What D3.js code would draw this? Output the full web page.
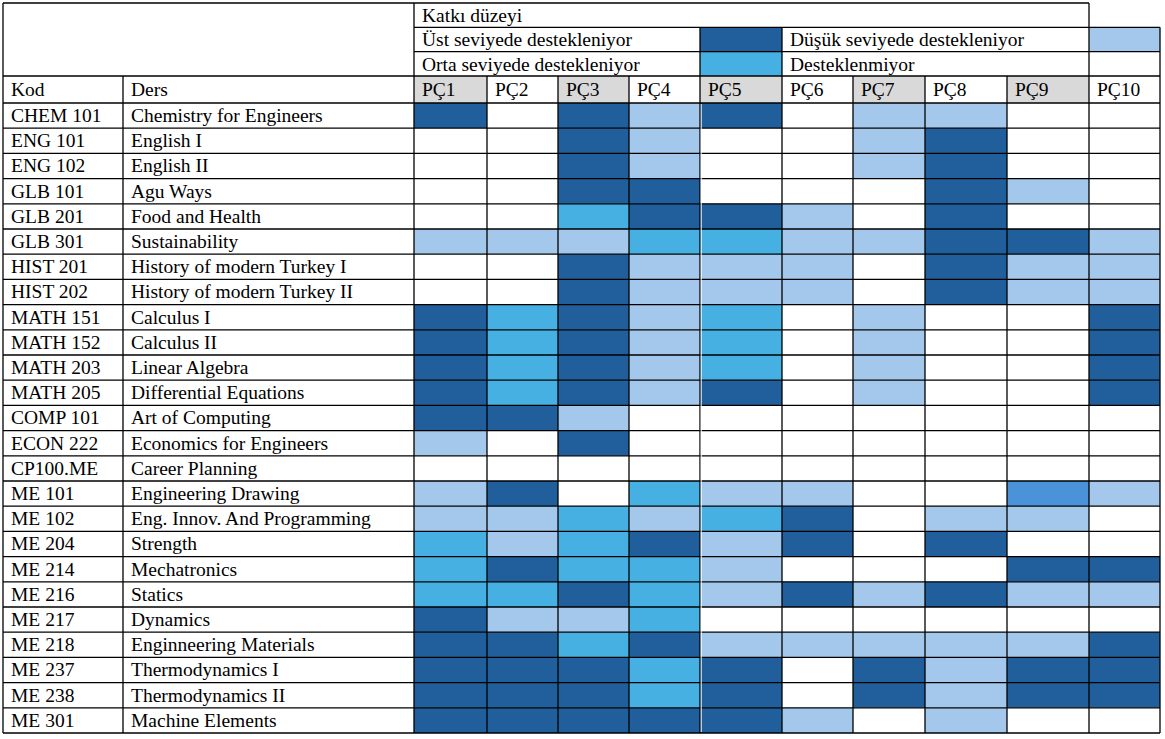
<!DOCTYPE html>
<html>
<head>
<meta charset="utf-8">
<script src="https://cdn.jsdelivr.net/npm/d3@7"></script>
<style>
  body { margin: 0; background: #fff; }
</style>
</head>
<body>
<svg id="canvas" width="1165" height="739"></svg>
<script>
let codes = ["CHEM 101", "ENG 101", "ENG 102", "GLB 101", "GLB 201", "GLB 301", "HIST 201", "HIST 202",
  "MATH 151", "MATH 152", "MATH 203", "MATH 205", "COMP 101", "ECON 222", "CP100.ME", "ME 101",
  "ME 102", "ME 204", "ME 214", "ME 216", "ME 217", "ME 218", "ME 237", "ME 238", "ME 301"];
let courses = ["Chemistry for Engineers", "English I", "English II", "Agu Ways", "Food and Health",
  "Sustainability", "History of modern Turkey I", "History of modern Turkey II", "Calculus I",
  "Calculus II", "Linear Algebra", "Differential Equations", "Art of Computing",
  "Economics for Engineers", "Career Planning", "Engineering Drawing", "Eng. Innov. And Programming",
  "Strength", "Mechatronics", "Statics", "Dynamics", "Enginneering Materials", "Thermodynamics I",
  "Thermodynamics II", "Machine Elements"];
let outcomes = ["PÇ1", "PÇ2", "PÇ3", "PÇ4", "PÇ5", "PÇ6", "PÇ7", "PÇ8", "PÇ9", "PÇ10"];
// 3 = üst, 2 = orta, 1 = düşük, 0 = desteklenmiyor, 4 = the odd blue cell (ME 101 / PÇ9)
let levels = [
  [3,0,3,1,3,0,1,1,0,0],
  [0,0,3,1,0,0,1,3,0,0],
  [0,0,3,1,0,0,1,3,0,0],
  [0,0,3,3,0,0,0,3,1,0],
  [0,0,2,3,3,1,0,3,0,0],
  [1,1,1,2,2,1,1,3,3,1],
  [0,0,3,1,1,1,0,3,1,1],
  [0,0,3,1,1,1,0,3,1,1],
  [3,2,3,1,2,0,1,0,0,3],
  [3,2,3,1,2,0,1,0,0,3],
  [3,2,3,1,2,0,1,0,0,3],
  [3,2,3,1,3,0,1,0,0,3],
  [3,3,1,0,0,0,0,0,0,0],
  [1,0,3,0,0,0,0,0,0,0],
  [0,0,0,0,0,0,0,0,0,0],
  [1,3,0,2,1,1,0,0,4,1],
  [1,1,2,1,2,3,0,1,1,0],
  [2,1,2,3,1,3,0,3,0,0],
  [2,3,2,2,1,0,0,0,3,3],
  [2,2,3,2,1,3,1,3,1,1],
  [3,1,1,2,0,0,0,0,0,0],
  [3,3,2,3,1,1,1,1,1,3],
  [3,3,3,2,3,0,3,1,3,3],
  [3,3,3,2,3,0,3,1,3,3],
  [3,3,3,3,3,1,0,1,0,0]
];
let legendTitle = "Katkı düzeyi";
let legendLabels = ["Üst seviyede destekleniyor", "Düşük seviyede destekleniyor",
  "Orta seviyede destekleniyor", "Desteklenmiyor"];
let legendLevels = [3, 1, 2, 0];

let levelColors = ["#ffffff", "#a4c8ec", "#46b0e2", "#215e9c", "#4a93d8"];
let headerGray = "#d9d9d9";
let fontFamily = "'Liberation Serif', 'Times New Roman', Times, 'DejaVu Serif', serif";

let canvas = d3.select("#canvas");

// column edges of the table (layout)
let colEdges = [414, 487, 558, 629, 700, 782, 853, 925, 1007, 1089, 1160];
let kodX = 3, dersX = 123;
let headTop = 3, subRow = 24.3, pcTop = 76, pcBottom = 103, tableBottom = 733;

let xLeft = d3.scaleOrdinal().domain(outcomes).range(colEdges.slice(0, -1));
let xRight = d3.scaleOrdinal().domain(outcomes).range(colEdges.slice(1));
let y = d3.scaleBand().domain(codes).range([pcBottom, tableBottom]);
let color = d3.scaleOrdinal().domain([0, 1, 2, 3, 4]).range(levelColors);

let cells = [];
levels.forEach((row, i) => row.forEach((v, j) => cells.push({ code: codes[i], pc: outcomes[j], v: v })));

// header gray cells
canvas.selectAll("rect.pchead")
  .data(outcomes)
  .enter()
  .append("rect")
  .attr("class", "pchead")
  .attr("x", (d) => xLeft(d))
  .attr("y", pcTop)
  .attr("width", (d) => xRight(d) - xLeft(d))
  .attr("height", pcBottom - pcTop)
  .attr("fill", (d, i) => i % 2 === 0 ? headerGray : "#fff");

// data cells
canvas.selectAll("rect.cell")
  .data(cells)
  .enter()
  .append("rect")
  .attr("class", "cell")
  .attr("x", (d) => xLeft(d.pc))
  .attr("y", (d) => y(d.code))
  .attr("width", (d) => xRight(d.pc) - xLeft(d.pc))
  .attr("height", y.bandwidth())
  .attr("fill", (d) => color(d.v));

// legend swatches
let legendRows = [headTop + subRow, headTop + 2 * subRow];
let swatchCols = ["PÇ5", "PÇ10"];
legendLevels.forEach((lv, i) => {
  let r = Math.floor(i / 2), c = i % 2;
  let pc = swatchCols[c];
  canvas.append("rect")
    .attr("x", xLeft(pc))
    .attr("y", legendRows[r])
    .attr("width", xRight(pc) - xLeft(pc))
    .attr("height", subRow)
    .attr("fill", color(lv));
});

// grid lines
let lines = canvas.append("g").attr("stroke", "#000").attr("stroke-width", 1.3).attr("fill", "none");
let hline = (x1, x2, yy) => lines.append("line").attr("x1", x1).attr("x2", x2).attr("y1", yy).attr("y2", yy);
let vline = (xx, y1, y2) => lines.append("line").attr("x1", xx).attr("x2", xx).attr("y1", y1).attr("y2", y2);

hline(kodX, xLeft("PÇ10"), headTop);
hline(xLeft("PÇ1"), xRight("PÇ10"), headTop + subRow);
hline(xLeft("PÇ1"), xRight("PÇ10"), headTop + 2 * subRow);
hline(kodX, xRight("PÇ10"), pcTop);
hline(kodX, xRight("PÇ10"), pcBottom);
codes.forEach((c) => hline(kodX, xRight("PÇ10"), y(c) + y.bandwidth()));

vline(kodX, headTop, tableBottom);
vline(dersX, pcTop, tableBottom);
vline(xLeft("PÇ1"), headTop, tableBottom);
vline(xLeft("PÇ10"), headTop, tableBottom);
vline(xRight("PÇ10"), headTop + subRow, tableBottom);
[xLeft("PÇ5"), xRight("PÇ5")].forEach((xx) => vline(xx, headTop + subRow, tableBottom));
outcomes.slice(1, 9).forEach((pc) => {
  if (pc !== "PÇ5" && pc !== "PÇ6") vline(xLeft(pc), pcTop, tableBottom);
});

// thin white gap beside the PÇ4 / PÇ5 border
canvas.append("line")
  .attr("x1", xLeft("PÇ5") + 1.2).attr("x2", xLeft("PÇ5") + 1.2)
  .attr("y1", pcBottom + 1).attr("y2", tableBottom - 1)
  .attr("stroke", "#fff").attr("stroke-width", 1);

// texts
let labels = canvas.append("g")
  .attr("font-family", fontFamily)
  .attr("font-size", 19.5)
  .attr("fill", "#000");
let pad = 8, base = 19;
labels.append("text").attr("x", xLeft("PÇ1") + pad).attr("y", headTop + base).text(legendTitle);
legendLabels.forEach((t, i) => {
  let r = Math.floor(i / 2), c = i % 2;
  let xx = c === 0 ? xLeft("PÇ1") : xLeft("PÇ6");
  labels.append("text").attr("x", xx + pad).attr("y", legendRows[r] + base).text(t);
});

labels.append("text").attr("x", kodX + pad).attr("y", pcTop + 20).text("Kod");
labels.append("text").attr("x", dersX + pad).attr("y", pcTop + 20).text("Ders");
labels.selectAll("text.pc")
  .data(outcomes)
  .enter()
  .append("text")
  .attr("class", "pc")
  .attr("x", (d) => xLeft(d) + pad)
  .attr("y", pcTop + 20)
  .text((d) => d);

labels.selectAll("text.kod")
  .data(codes)
  .enter()
  .append("text")
  .attr("class", "kod")
  .attr("x", kodX + pad)
  .attr("y", (d) => y(d) + base)
  .text((d) => d);

labels.selectAll("text.ders")
  .data(courses)
  .enter()
  .append("text")
  .attr("class", "ders")
  .attr("x", dersX + pad)
  .attr("y", (d, i) => y(codes[i]) + base)
  .text((d) => d);
</script>
</body>
</html>
